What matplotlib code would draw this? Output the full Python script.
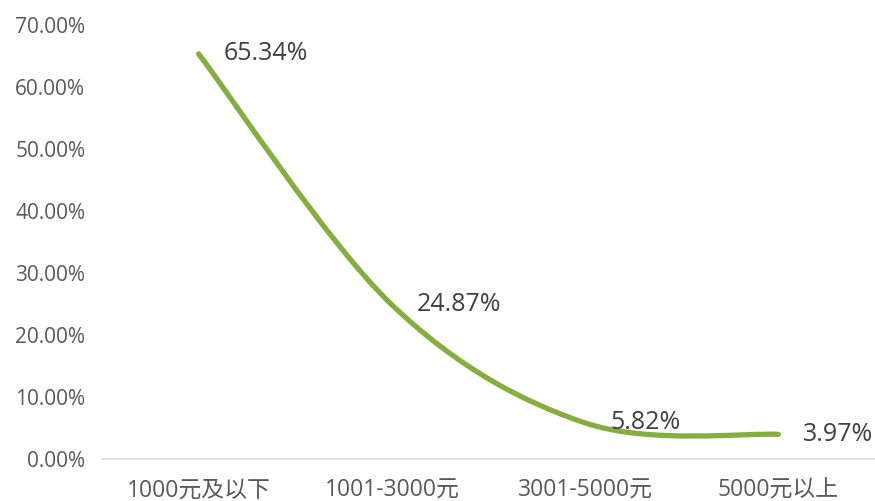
import matplotlib

matplotlib.use("Agg")
import matplotlib.pyplot as plt
import numpy as np
from matplotlib.path import Path
from matplotlib.patches import PathPatch
from matplotlib.ticker import FuncFormatter, MultipleLocator

plt.rcParams["font.family"] = ["Open Sans", "Noto Sans CJK SC", "DejaVu Sans"]

categories = ["1000元及以下", "1001-3000元", "3001-5000元", "5000元以上"]
shares = [65.34, 24.87, 5.82, 3.97]
labels = ["65.34%", "24.87%", "5.82%", "3.97%"]

LINE = "#86AD40"
TICK = "#595959"
LABEL = "#404040"


def smooth_path(xs, ys):
    # Catmull-Rom style bezier, like spreadsheet "smoothed line"
    xs = np.asarray(xs, float)
    ys = np.asarray(ys, float)
    n = len(xs)
    verts = [(xs[0], ys[0])]
    codes = [Path.MOVETO]
    for i in range(n - 1):
        p0 = i - 1 if i > 0 else i
        p3 = i + 2 if i + 2 < n else i + 1
        c1 = (xs[i] + (xs[i + 1] - xs[p0]) / 6, ys[i] + (ys[i + 1] - ys[p0]) / 6)
        c2 = (xs[i + 1] - (xs[p3] - xs[i]) / 6, ys[i + 1] - (ys[p3] - ys[i]) / 6)
        verts += [c1, c2, (xs[i + 1], ys[i + 1])]
        codes += [Path.CURVE4] * 3
    return Path(verts, codes)


fig = plt.figure(figsize=(8.75, 5.01), dpi=100)
ax = fig.add_axes([102 / 875, 1 - 459 / 501, 1 - 102 / 875, (459 - 25) / 501])

x = np.arange(len(categories))
ax.add_patch(PathPatch(smooth_path(x, shares), fill=False, edgecolor=LINE,
                       linewidth=3.8, capstyle="round", joinstyle="round"))

for xi, yi, lab in zip(x, shares, labels):
    ax.annotate(lab, (xi, yi), xytext=(18, 0), textcoords="offset points",
                ha="left", va="center", fontsize=18, color=LABEL)

ax.set_xlim(-0.5, len(categories) - 0.5)
ax.set_ylim(0, 70)
ax.yaxis.set_major_locator(MultipleLocator(10))
ax.yaxis.set_major_formatter(FuncFormatter(lambda v, _: f"{v:.2f}%"))
ax.set_xticks(x)
ax.set_xticklabels(categories)
ax.tick_params(axis="y", length=0, pad=12, labelsize=15, labelcolor=TICK)
ax.tick_params(axis="x", length=0, pad=14, labelsize=16.5, labelcolor=TICK)

for side in ("left", "right", "top"):
    ax.spines[side].set_visible(False)
ax.spines["bottom"].set_color("#D9D9D9")
ax.spines["bottom"].set_linewidth(1.2)
ax.set_facecolor("white")

fig.savefig("out.png", dpi=100, facecolor="white")
